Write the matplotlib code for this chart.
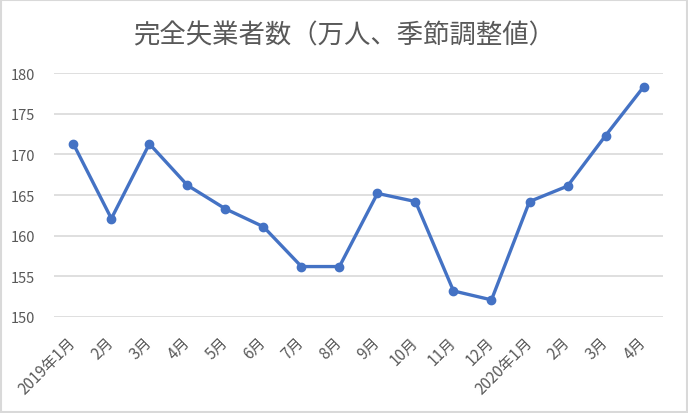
import matplotlib
matplotlib.use('Agg')
import matplotlib.pyplot as plt
from matplotlib.patches import Rectangle

plt.rcParams['font.family'] = ['Noto Sans CJK JP', 'DejaVu Sans']

months: list[str] = ['2019年1月', '2月', '3月', '4月', '5月', '6月', '7月', '8月',
                     '9月', '10月', '11月', '12月', '2020年1月', '2月', '3月', '4月']
# values (万人)
unemployed: list[float] = [171.3, 162.1, 171.3, 166.2, 163.3, 161.1, 156.2, 156.2,
                           165.2, 164.2, 153.2, 152.1, 164.2, 166.1, 172.3, 178.3]
y_ticks: list[int] = [150, 155, 160, 165, 170, 175, 180]

text_color = '#595959'
grid_color = '#D9D9D9'
line_color = '#4472C4'

fig = plt.figure(figsize=(6.88, 4.14), dpi=100)
fig.patches.append(Rectangle((0.002, 0.003), 0.996, 0.994, transform=fig.transFigure,
                             fill=False, edgecolor=grid_color, linewidth=1.5))
ax = fig.add_axes([0.079, 0.232, 0.884, 0.589])

x = list(range(len(months)))
ax.plot(x, unemployed, color=line_color, linewidth=2.4, marker='o',
        markersize=6, zorder=3)

ax.set_xlim(-0.5, len(months) - 0.5)
ax.set_ylim(150, 180)
ax.set_yticks(y_ticks)
ax.set_xticks(x)
ax.set_xticklabels(months, rotation=45, ha='right', va='center',
                   rotation_mode='anchor')
ax.tick_params(axis='both', length=0, colors=text_color, labelsize=10.5)
ax.tick_params(axis='x', labelsize=11, pad=16)
ax.tick_params(axis='y', pad=14)
ax.grid(axis='y', color=grid_color, linewidth=1.2)
ax.set_axisbelow(True)
for s in ax.spines.values():
    s.set_visible(False)

fig.text(0.5, 0.912, '完全失業者数（万人、季節調整値）', ha='center', va='center',
         fontsize=19, color=text_color)

fig.savefig('out.png', dpi=100)
